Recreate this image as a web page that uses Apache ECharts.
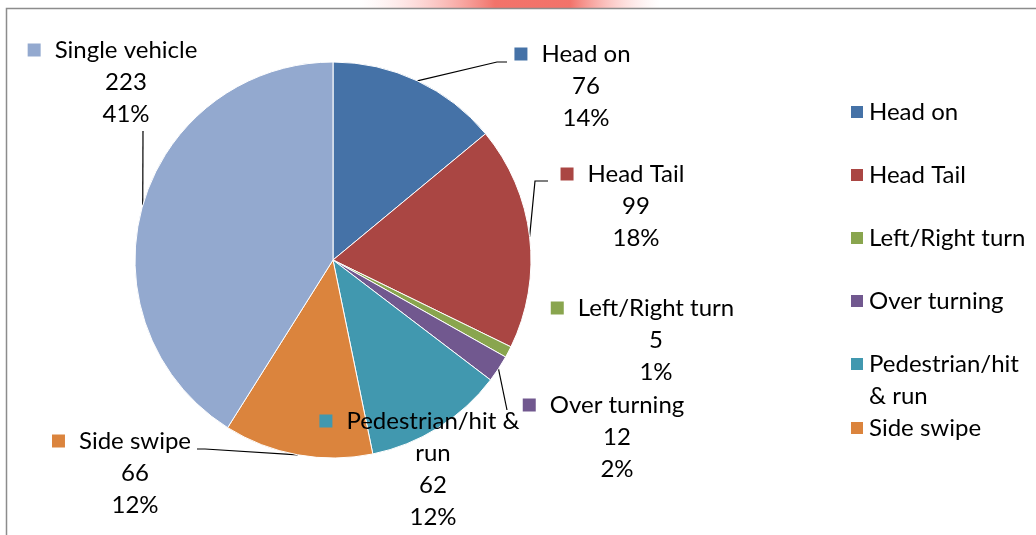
<!DOCTYPE html>
<html>
<head>
<meta charset="utf-8">
<script src="https://cdn.jsdelivr.net/npm/echarts@6/dist/echarts.min.js"></script>
<style>html,body{margin:0;padding:0;background:#fff;}#c{width:1036px;height:535px;}</style>
</head>
<body>
<div id="c"></div>
<script>
const categories = ['Head on', 'Head Tail', 'Left/Right turn', 'Over turning', 'Pedestrian/hit & run', 'Side swipe', 'Single vehicle'];
const values = [76, 99, 5, 12, 62, 66, 223];
const percentLabels = ['14%', '18%', '1%', '2%', '12%', '12%', '41%'];
const legendNames = ['Head on', 'Head Tail', 'Left/Right turn', 'Over turning', 'Pedestrian/hit & run', 'Side swipe'];

const colors = ['#4572A7', '#AA4643', '#89A54E', '#71588F', '#4198AF', '#DB843D', '#93A9CF'];
const FONT = 'Lato';
const FS = 24;
const LH = 32;
// label anchor: text centre x, first-line centre y
const labelPos = [[586, 54], [636, 174], [656, 308], [617, 405], [433, 421], [135, 441], [126, 50]];
// leader line bend / end offsets relative to the label anchor (null = no leader)
const leader = [
  [[-89, 8], [-79, 8]],
  [[-101, 7], [-88, 7]],
  null,
  [[-110, 5], [-110, 5]],
  null,
  [[70, 8], [62, 8]],
  [[17, 81], [17, 81]]
];
const labelNameText = ['Head on', 'Head Tail', 'Left/Right turn', 'Over turning', 'Pedestrian/hit &\nrun', 'Side swipe', 'Single vehicle'];

const rich = { v: { fontFamily: FONT, fontSize: FS, lineHeight: LH, color: '#000' },
  p: { width: 27, lineHeight: LH } };
colors.forEach((c, i) => {
  rich['m' + i] = { width: 13, height: 13, backgroundColor: c, lineHeight: LH };
});
rich.n = { fontFamily: FONT, fontSize: FS, lineHeight: LH, color: '#000', padding: [0, 0, 0, 14] };

const data = categories.map((name, i) => {
  const parts = labelNameText[i].split('\n');
  const first = '{m' + i + '| }{n|' + parts[0] + '}{p| }';
  const rest = parts.slice(1).map(s => '{v|' + s + '}');
  const txt = [first].concat(rest).concat(['{v|' + values[i] + '}', '{v|' + percentLabels[i] + '}']).join('\n');
  return {
    name: name, value: values[i],
    itemStyle: { color: colors[i] },
    label: { formatter: txt },
    labelLine: { show: leader[i] !== null }
  };
});

const legendCenters = [112, 175, 238, 301, 364, 428];
const legends = legendNames.map((n, i) => {
  const twoLine = n === 'Pedestrian/hit & run';
  return {
    data: [n], orient: 'vertical', left: 849,
    top: twoLine ? legendCenters[i] - 48 : legendCenters[i] - 16,
    padding: 0, icon: 'rect', itemWidth: 14, itemHeight: 14,
    selectedMode: false,
    formatter: twoLine ? ' \nPedestrian/hit\n& run' : '{name}',
    textStyle: { fontFamily: FONT, fontSize: FS, lineHeight: LH, color: '#000' }
  };
});

const chart = echarts.init(document.getElementById('c'));
chart.setOption({
  animation: false,
  backgroundColor: '#fff',
  color: colors,
  legend: legends,
  graphic: [
    { type: 'rect', shape: { x: 360, y: 0, width: 300, height: 8 }, silent: true,
      style: { fill: new echarts.graphic.LinearGradient(0, 0, 1, 0, [
        { offset: 0, color: 'rgba(255,200,200,0)' },
        { offset: 0.45, color: 'rgba(240,90,80,0.85)' },
        { offset: 0.7, color: 'rgba(240,90,80,0.85)' },
        { offset: 1, color: 'rgba(255,200,200,0)' }]) } },
    { type: 'rect', shape: { x: 6.5, y: 8.5, width: 1040, height: 540 }, silent: true,
      style: { fill: 'none', stroke: '#8c8c8c', lineWidth: 1.5 } }
  ],
  series: [{
    type: 'pie',
    center: [333, 260],
    radius: 198,
    startAngle: 90,
    clockwise: true,
    data: data,
    itemStyle: { borderColor: '#fff', borderWidth: 1 },
    label: { show: true, position: 'outside', overflow: 'none', rich: rich, fontFamily: FONT, fontSize: FS, lineHeight: LH, color: '#000', align: 'center' },
    labelLine: { show: true, length: 15, length2: 10, lineStyle: { color: '#000', width: 1.2 } },
    labelLayout: function (params) {
      const i = params.dataIndex;
      const p = labelPos[i];
      const out = { x: p[0], y: p[1] - LH / 2, align: 'center', verticalAlign: 'top', hideOverlap: false };
      if (leader[i] && params.labelLinePoints) {
        const a = params.labelLinePoints[0];
        out.labelLinePoints = [
          [a[0], a[1]],
          [p[0] + leader[i][0][0], p[1] + leader[i][0][1]],
          [p[0] + leader[i][1][0], p[1] + leader[i][1][1]]
        ];
      }
      return out;
    },
    emphasis: { disabled: true }
  }]
});
</script>
</body>
</html>
